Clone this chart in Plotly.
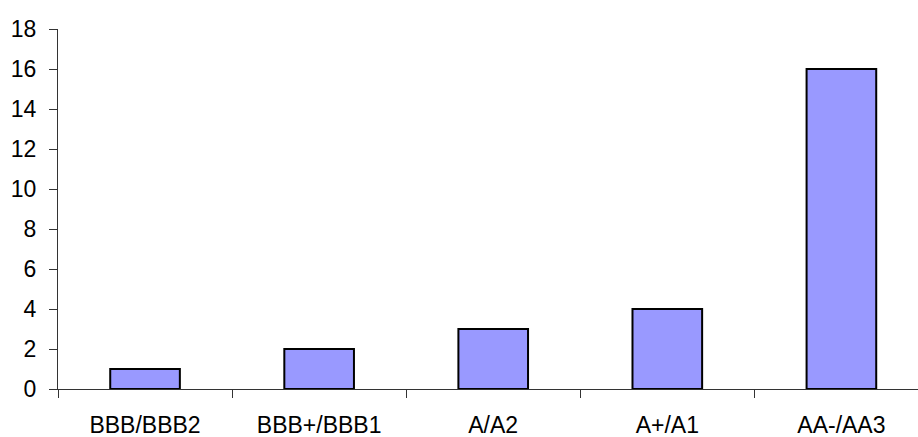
import plotly.graph_objects as go

# Rating buckets and counts
ratings = ["BBB/BBB2", "BBB+/BBB1", "A/A2", "A+/A1", "AA-/AA3"]
counts = [1, 2, 3, 4, 16]
y_ticks = list(range(0, 19, 2))

fig = go.Figure(
    go.Bar(
        x=ratings,
        y=counts,
        width=0.4,
        marker=dict(color="#9999FF", line=dict(color="#000000", width=2)),
    )
)

font = dict(family="Liberation Sans, Arial, sans-serif", size=23, color="#000000")

fig.update_layout(
    width=918,
    height=437,
    margin=dict(l=58, r=0, t=29, b=48),
    paper_bgcolor="#FFFFFF",
    plot_bgcolor="#FFFFFF",
    showlegend=False,
    font=font,
    xaxis=dict(
        type="category",
        range=[-0.5, 4.44],
        tickson="boundaries",
        ticks="outside",
        ticklen=8,
        tickcolor="#333333",
        showline=True,
        linecolor="#333333",
        linewidth=1,
        showgrid=False,
        zeroline=False,
        ticklabelstandoff=15,
    ),
    yaxis=dict(
        range=[0, 18],
        tickvals=y_ticks,
        ticks="outside",
        ticklen=8,
        tickcolor="#333333",
        showline=True,
        linecolor="#333333",
        linewidth=1,
        showgrid=False,
        zeroline=False,
        ticklabelstandoff=8,
    ),
)

fig.write_html("out.html")
